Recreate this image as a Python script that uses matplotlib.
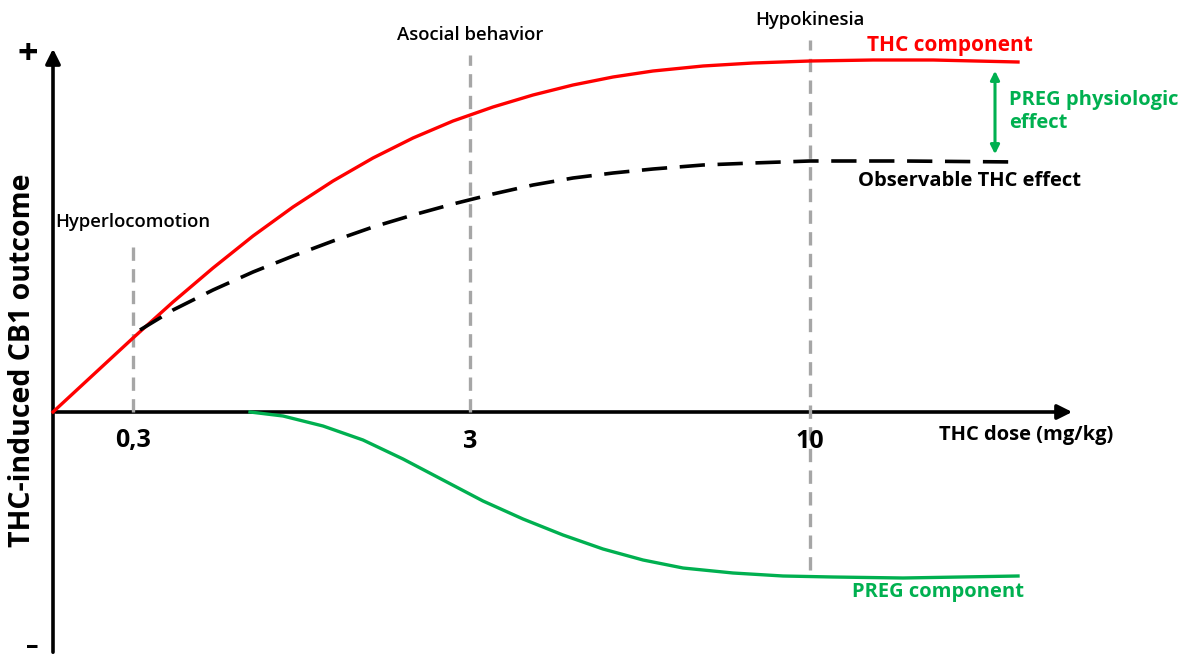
"""Conceptual THC / PREG dose-response diagram."""

import matplotlib.pyplot as plt
from matplotlib.patches import FancyArrowPatch

FONT = "Open Sans"
RED = "#FF0000"
GREEN = "#00B050"
GREY = "#A6A6A6"
INK = "#000000"

# Positions along the dose axis (arbitrary drawing units, origin at 0)
DOSE_TICKS = [80, 417, 757]
DOSE_LABELS = ["0,3", "3", "10"]
BEHAVIOURS = ["Hyperlocomotion", "Asocial behavior", "Hypokinesia"]
BEHAVIOUR_TOP = [170, 357, 372]
BEHAVIOUR_BOTTOM = [0, 0, -158]

# THC component (red)
thc_x = [0, 40, 80, 120, 160, 200, 240, 280, 320, 360, 400, 440, 480, 520,
         560, 600, 650, 700, 757, 820, 880, 965]
thc_y = [0, 37, 74, 110, 144, 176, 205, 231, 254, 274, 291, 305, 317, 327,
         335, 341, 346, 349, 351, 352, 352, 350]

# Observable THC effect (black dashed)
obs_x = [87, 120, 160, 200, 240, 280, 320, 360, 400, 440, 480, 520, 560, 600,
         650, 700, 757, 850, 965]
obs_y = [82, 102, 122, 140, 156, 171, 185, 197, 208, 218, 227, 234, 239, 243,
         247, 249, 251, 251, 250]

# PREG component (green)
preg_x = [197, 230, 270, 310, 350, 390, 430, 470, 510, 550, 590, 630, 680,
          730, 780, 850, 965]
preg_y = [0, -4, -14, -28, -47, -68, -89, -107, -123, -137, -148, -156, -161,
          -164, -165, -166, -164]


def main():
    fig = plt.figure(figsize=(11.92, 6.6), dpi=100)
    ax = fig.add_axes([0, 0, 1, 1])
    ax.set_xlim(-53, 1139)
    ax.set_ylim(-248, 412)
    ax.axis("off")

    # axes arrows
    ax.add_patch(FancyArrowPatch((0, -243), (0, 366), arrowstyle="-|>",
                                 mutation_scale=22, linewidth=2.6, color=INK))
    ax.add_patch(FancyArrowPatch((0, 0), (1022, 0), arrowstyle="-|>",
                                 mutation_scale=22, linewidth=2.6, color=INK))

    # dashed guide lines for each behaviour
    for x, top, bottom, label in zip(DOSE_TICKS, BEHAVIOUR_TOP, BEHAVIOUR_BOTTOM, BEHAVIOURS):
        ax.plot([x, x], [bottom, top], color=GREY, linewidth=2.4,
                linestyle=(0, (4, 2.5)), zorder=1)
        ax.text(x, top + 20, label, ha="center", va="center", fontsize=13.3,
                fontweight="semibold", color=INK, fontname=FONT)

    for x, label in zip(DOSE_TICKS, DOSE_LABELS):
        ax.text(x, -29, label, ha="center", va="center", fontsize=18,
                fontweight="bold", color=INK, fontname=FONT)

    ax.plot(thc_x, thc_y, color=RED, linewidth=2.4, zorder=3)
    ax.plot(obs_x, obs_y, color=INK, linewidth=2.6, linestyle=(0, (7, 3.5)), zorder=3)
    ax.plot(preg_x, preg_y, color=GREEN, linewidth=2.4, zorder=3)

    # PREG physiologic effect arrow
    ax.add_patch(FancyArrowPatch((942, 344), (942, 255), arrowstyle="<|-|>",
                                 mutation_scale=13, linewidth=2.2, color=GREEN))

    ax.text(897, 366, "THC component", ha="center", va="center", fontsize=15,
            fontweight="bold", color=RED, fontname=FONT)
    ax.text(956, 301, "PREG physiologic\neffect", ha="left", va="center",
            fontsize=14.5, fontweight="bold", color=GREEN, fontname=FONT,
            linespacing=1.2)
    ax.text(916, 231, "Observable THC effect", ha="center", va="center",
            fontsize=14.5, fontweight="bold", color=INK, fontname=FONT)
    ax.text(885, -180, "PREG component", ha="center", va="center", fontsize=14.5,
            fontweight="bold", color=GREEN, fontname=FONT)
    ax.text(973, -23, "THC dose (mg/kg)", ha="center", va="center", fontsize=14.5,
            fontweight="bold", color=INK, fontname=FONT)

    ax.text(-30, 52, "THC-induced CB1 outcome", ha="center", va="center",
            rotation=90, fontsize=20.5, fontweight="bold", color=INK, fontname=FONT)
    ax.text(-25, 357, "+", ha="center", va="center", fontsize=26,
            fontweight="bold", color=INK, fontname=FONT)
    ax.text(-21, -247, "\u2013", ha="center", va="bottom", fontsize=18,
            fontweight="bold", color=INK, fontname=FONT)

    fig.savefig("out.png", dpi=100)
    plt.close(fig)


if __name__ == "__main__":
    main()
